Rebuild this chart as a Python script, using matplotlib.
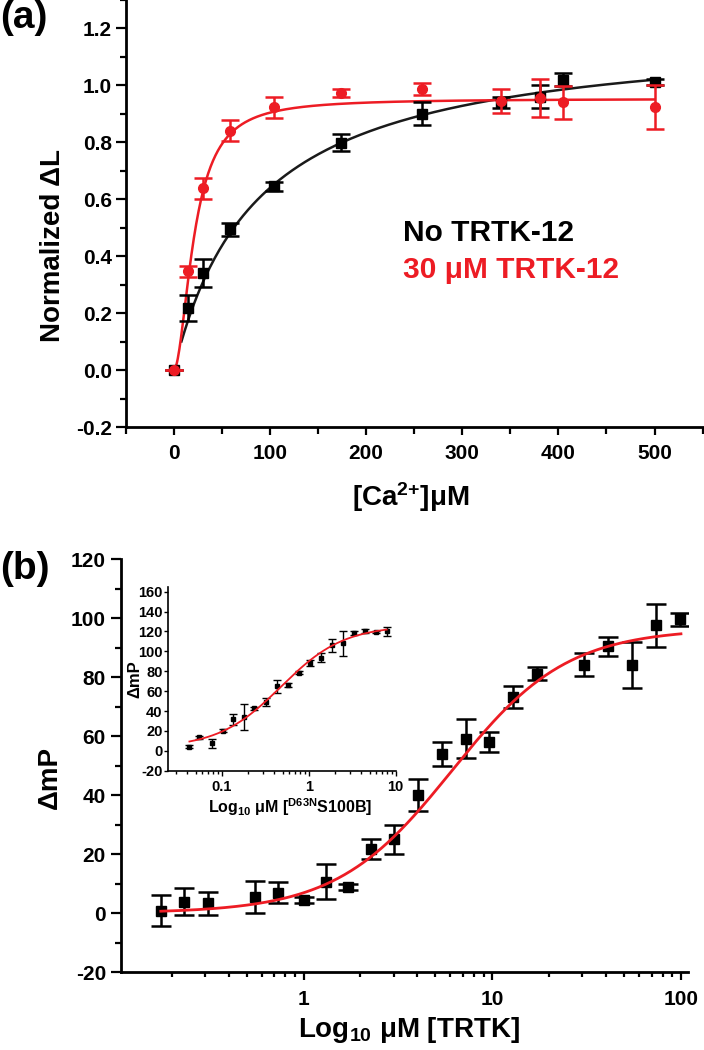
import numpy as np
import matplotlib
matplotlib.use('Agg')
import matplotlib.pyplot as plt
from matplotlib.ticker import MultipleLocator, FixedLocator, LogLocator, NullFormatter, FixedFormatter

plt.rcParams['font.family'] = ['Liberation Sans', 'DejaVu Sans']
plt.rcParams['font.weight'] = 'bold'
plt.rcParams['axes.unicode_minus'] = False
plt.rcParams['mathtext.fontset'] = 'custom'
plt.rcParams['mathtext.bf'] = 'Liberation Sans:bold'
plt.rcParams['mathtext.rm'] = 'Liberation Sans:bold'
plt.rcParams['mathtext.default'] = 'bf'

RED = '#ED1C24'

# panel (a): normalized luminescence change vs Ca2+
ca_conc = [0, 15, 30, 58, 104, 174, 258, 340, 381, 405, 500]
no_trtk = [0, 0.218, 0.341, 0.494, 0.645, 0.798, 0.900, 0.940, 0.960, 1.020, 1.012]
no_trtk_err = [0, 0.045, 0.05, 0.022, 0.015, 0.03, 0.04, 0.02, 0.04, 0.022, 0.01]
with_trtk = [0, 0.347, 0.638, 0.841, 0.924, 0.973, 0.988, 0.945, 0.955, 0.940, 0.924]
with_trtk_err = [0, 0.02, 0.038, 0.038, 0.037, 0.013, 0.022, 0.043, 0.066, 0.058, 0.076]

# fit parameters (Hill)
no_trtk_fit = dict(bmax=1.198, k=87.2, n=1.0, start=8)
with_trtk_fit = dict(bmax=0.953, k=21.5, n=1.9, start=0)

# panel (b): delta mP vs TRTK concentration
trtk_conc = [0.175, 0.233, 0.31, 0.553, 0.73, 1.0, 1.31, 1.71, 2.28, 3.03, 4.04,
             5.41, 7.22, 9.57, 12.8, 17.2, 30.7, 41.3, 55.3, 73.8, 98.4]
dmp = [0.8, 3.8, 3.3, 5.4, 6.9, 4.4, 10.7, 8.9, 21.7, 25.0, 40.1,
       53.9, 59.2, 58.1, 73.2, 81.2, 84.3, 90.5, 84.2, 97.6, 99.6]
dmp_err = [5.2, 4.6, 4.0, 5.4, 3.5, 1.0, 5.8, 1.0, 3.3, 4.9, 5.4,
           4.0, 6.7, 3.3, 3.8, 2.3, 3.9, 3.2, 7.7, 7.4, 2.2]
trtk_fit = dict(a1=0.0, a2=96.5, k=6.1, n=1.42, lo=0.175, hi=100)

# inset: delta mP vs D63N S100B
s100b_conc = [0.0425, 0.055, 0.0768, 0.1026, 0.136, 0.182, 0.237, 0.323, 0.436, 0.584,
              0.781, 1.035, 1.37, 1.84, 2.5, 3.32, 4.44, 5.89, 7.88]
inset_dmp = [4.2, 13.7, 7.6, 20.4, 31.5, 34.3, 43.0, 49.0, 64.8, 66.5,
             78.6, 88.4, 93.4, 106.2, 107.9, 118.0, 120.3, 119.6, 120.3]
inset_err = [1.5, 1.5, 4.7, 1.5, 5.9, 13.0, 1.5, 3.9, 6.7, 2.0,
             1.5, 3.4, 4.5, 6.4, 12.8, 2.0, 2.0, 1.0, 4.4]
s100b_fit = dict(a1=3.0, a2=126.0, k=0.48, n=1.2, lo=0.0425, hi=7.88)


def hill(x, a1, a2, k, n):
    return a1 + (a2 - a1) * x ** n / (k ** n + x ** n)


W, H = 704, 1050
fig = plt.figure(figsize=(W / 100, H / 100), dpi=100)


def px_axes(left, top, right, bottom):
    return fig.add_axes([left / W, 1 - bottom / H, (right - left) / W, (bottom - top) / H])


def style(ax, lw=2.0):
    for s in ['top', 'right']:
        ax.spines[s].set_visible(False)
    for s in ['left', 'bottom']:
        ax.spines[s].set_linewidth(lw)


# ---------- (a)
ax = px_axes(125.7, 0, 702.6, 427)
style(ax)
ax.set_xlim(-50, 550)
ax.set_ylim(-0.2, 1.3)
ax.xaxis.set_major_locator(FixedLocator([0, 100, 200, 300, 400, 500]))
ax.xaxis.set_minor_locator(MultipleLocator(50))
ax.yaxis.set_major_locator(FixedLocator([-0.2, 0, 0.2, 0.4, 0.6, 0.8, 1.0, 1.2]))
ax.yaxis.set_minor_locator(MultipleLocator(0.1))
ax.yaxis.set_major_formatter(plt.FuncFormatter(lambda v, p: '%.1f' % v))
ax.tick_params(which='both', direction='out', width=1.6, labelsize=15)
ax.tick_params(axis='y', which='major', length=7, pad=3)
ax.tick_params(axis='y', which='minor', length=4)
ax.tick_params(axis='x', which='major', length=6, pad=6)
ax.tick_params(axis='x', which='minor', length=5)

xs = np.linspace(no_trtk_fit['start'], 500, 300)
ax.plot(xs, hill(xs, 0, no_trtk_fit['bmax'], no_trtk_fit['k'], no_trtk_fit['n']),
        color='#1a1a1a', lw=1.8, zorder=2)
xs = np.linspace(with_trtk_fit['start'], 500, 600)
ax.plot(xs, hill(xs, 0, with_trtk_fit['bmax'], with_trtk_fit['k'], with_trtk_fit['n']),
        color=RED, lw=1.8, zorder=2)
ax.errorbar(ca_conc, no_trtk, yerr=no_trtk_err, fmt='s', color='black', ms=6.5,
            capsize=6.8, elinewidth=1.8, capthick=1.8, zorder=3)
ax.errorbar(ca_conc, with_trtk, yerr=with_trtk_err, fmt='o', color=RED, ms=7,
            capsize=6.8, elinewidth=1.8, capthick=1.8, zorder=4)
ax.text(238, 0.481, 'No TRTK-12', fontsize=21.5, color='black', va='center', ha='left')
ax.text(238, 0.351, '30 \u03bcM TRTK-12', fontsize=21.5, color=RED, va='center', ha='left')

fig.text(53.5 / W, 1 - 246 / H, 'Normalized \u0394L', rotation=90, fontsize=20,
         ha='center', va='center')
fig.text(411 / W, 1 - 497 / H, '[Ca$^{2{+}}$]\u03bcM', fontsize=20, ha='center', va='center')
fig.text(0, 1 - 18 / H, '(a)', fontsize=28, ha='left', va='center')

# ---------- (b)
bx = px_axes(120.5, 559.3, 688, 972)
style(bx)
bx.set_xscale('log')
bx.set_xlim(0.107, 109)
bx.set_ylim(-20, 120)
bx.xaxis.set_major_locator(FixedLocator([1, 10, 100]))
bx.xaxis.set_major_formatter(FixedFormatter(['1', '10', '100']))
bx.xaxis.set_minor_locator(LogLocator(base=10, subs=np.arange(2, 10), numticks=20))
bx.xaxis.set_minor_formatter(NullFormatter())
bx.yaxis.set_major_locator(MultipleLocator(20))
bx.yaxis.set_minor_locator(MultipleLocator(10))
bx.tick_params(which='both', direction='out', width=1.6, labelsize=15)
bx.tick_params(axis='y', which='major', length=7.5, pad=3)
bx.tick_params(axis='y', which='minor', length=4.5)
bx.tick_params(axis='x', which='major', length=6, pad=7)
bx.tick_params(axis='x', which='minor', length=3.5)

xs = np.logspace(np.log10(trtk_fit['lo']), np.log10(trtk_fit['hi']), 400)
bx.plot(xs, hill(xs, trtk_fit['a1'], trtk_fit['a2'], trtk_fit['k'], trtk_fit['n']),
        color=RED, lw=2.0, zorder=3)
bx.errorbar(trtk_conc, dmp, yerr=dmp_err, fmt='s', color='black', ms=7,
            capsize=7, elinewidth=1.8, capthick=1.8, zorder=2)

fig.text(50 / W, 1 - 777 / H, '\u0394mP', rotation=90, fontsize=20, ha='center', va='center')
fig.text(409 / W, 1 - 1030 / H, 'Log$_{10}$ \u03bcM [TRTK]', fontsize=20,
         ha='center', va='center')
fig.text(0, 1 - 569 / H, '(b)', fontsize=28, ha='left', va='center')

# ---------- inset
ix = px_axes(168.3, 586.7, 395.7, 770.7)
style(ix, lw=1.2)
ix.patch.set_alpha(0)
ix.set_xscale('log')
ix.set_xlim(0.0243, 10)
ix.set_ylim(-20, 165)
ix.xaxis.set_major_locator(FixedLocator([0.1, 1, 10]))
ix.xaxis.set_major_formatter(FixedFormatter(['0.1', '1', '10']))
ix.xaxis.set_minor_locator(LogLocator(base=10, subs=np.arange(2, 10), numticks=20))
ix.xaxis.set_minor_formatter(NullFormatter())
ix.yaxis.set_major_locator(MultipleLocator(20))
ix.tick_params(which='both', direction='out', width=1.0, labelsize=10.5)
ix.tick_params(axis='y', which='major', length=3, pad=1)
ix.tick_params(axis='x', which='major', length=3.5, pad=3)
ix.tick_params(axis='x', which='minor', length=2.5)

xs = np.logspace(np.log10(s100b_fit['lo']), np.log10(s100b_fit['hi']), 300)
ix.plot(xs, hill(xs, s100b_fit['a1'], s100b_fit['a2'], s100b_fit['k'], s100b_fit['n']),
        color=RED, lw=1.3, zorder=3)
ix.errorbar(s100b_conc, inset_dmp, yerr=inset_err, fmt='s', color='black', ms=3.5,
            capsize=3, elinewidth=1.0, capthick=1.0, zorder=2)

fig.text(135 / W, 1 - 679 / H, '\u0394mP', rotation=90, fontsize=12, ha='center', va='center')
fig.text(290 / W, 1 - 806.7 / H, 'Log$_{10}$ \u03bcM [$^{D63N}$S100B]', fontsize=11.5,
         ha='center', va='center')

fig.savefig('out.png', dpi=100)
